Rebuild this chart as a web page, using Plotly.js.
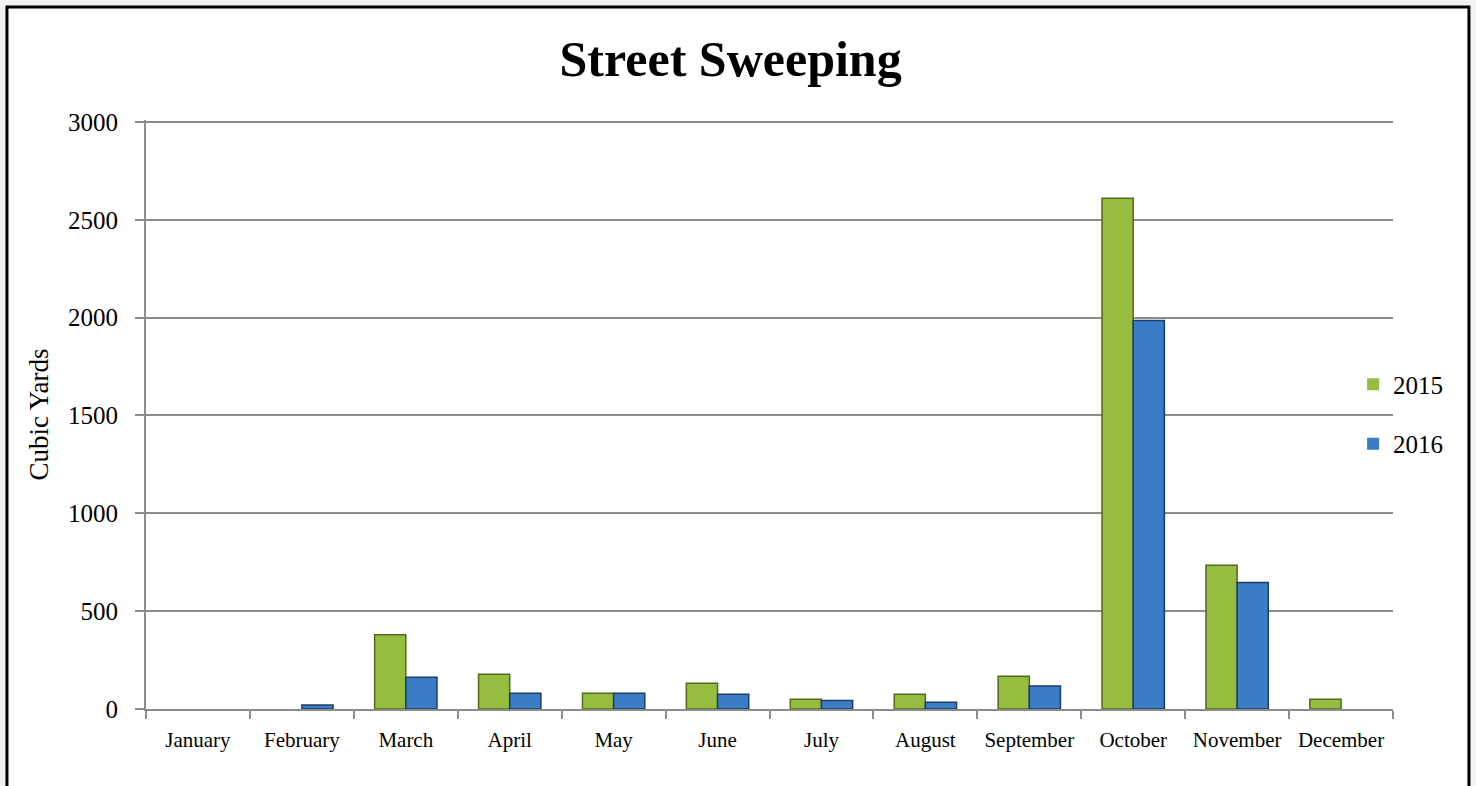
<!DOCTYPE html>
<html>
<head>
<meta charset="utf-8">
<script src="https://cdn.plot.ly/plotly-3.0.1.min.js"></script>
<style>
  html, body { margin: 0; padding: 0; background: #f2f2f2; }
  #chart { width: 1476px; height: 786px; }
</style>
</head>
<body>
<div id="chart"></div>
<script>
const months = ["January","February","March","April","May","June","July","August","September","October","November","December"];
const y2015 = [0, 0, 380, 178, 80, 131, 50, 75, 167, 2610, 734, 50];
const y2016 = [0, 20, 162, 80, 80, 75, 44, 34, 117, 1985, 647, 0];
const yTicks = [0, 500, 1000, 1500, 2000, 2500, 3000];

const serif = "Liberation Serif, Times New Roman, serif";

function barTrace(name, values, fill, edge, group) {
  return {
    type: "bar", name: name, x: months, y: values, legendgroup: group,
    marker: {
      color: fill,
      line: { color: edge, width: values.map(v => v === 0 ? 0 : 1.5) }
    },
    hoverinfo: "x+y+name"
  };
}

const traces = [
  barTrace("2015", y2015, "#96bc40", "#55691c", "a"),
  barTrace("2016", y2016, "#3b7cc6", "#1d3c66", "b")
];

const layout = {
  width: 1476, height: 786,
  paper_bgcolor: "#f2f2f2",
  plot_bgcolor: "rgba(0,0,0,0)",
  margin: { l: 146, r: 83, t: 120, b: 77, pad: 0 },
  barmode: "group",
  bargap: 0.4,
  bargroupgap: 0,
  title: {
    text: "<b>Street Sweeping</b>",
    font: { family: serif, size: 50, color: "#000" },
    x: 0.495, xref: "container", xanchor: "center",
    y: 0.925, yref: "container", yanchor: "middle"
  },
  font: { family: serif, color: "#000" },
  xaxis: {
    type: "category",
    tickson: "boundaries",
    tickangle: 0,
    ticks: "outside", ticklen: 8, tickwidth: 2, tickcolor: "#8c8c8c",
    showline: true, linecolor: "#8c8c8c", linewidth: 2,
    showgrid: false, zeroline: false,
    tickfont: { family: serif, size: 21, color: "#000" },
    ticklabelstandoff: 11,
    fixedrange: true
  },
  yaxis: {
    range: [0, 3010],
    tickvals: yTicks,
    ticktext: yTicks.map(String),
    ticks: "outside", ticklen: 9, tickwidth: 2, tickcolor: "#8c8c8c",
    showline: true, linecolor: "#8c8c8c", linewidth: 2,
    showgrid: true, gridcolor: "#8c8c8c", gridwidth: 2,
    zeroline: false,
    tickfont: { family: serif, size: 25, color: "#000" },
    ticklabelstandoff: 12,
    title: { text: "Cubic Yards", font: { family: serif, size: 27, color: "#000" }, standoff: 12 },
    fixedrange: true
  },
  showlegend: true,
  legend: {
    x: 0.968, xanchor: "left",
    y: 0.59, yanchor: "top",
    bgcolor: "rgba(0,0,0,0)",
    font: { family: serif, size: 25, color: "#000" },
    traceorder: "grouped",
    tracegroupgap: 24,
    itemwidth: 30
  },
  shapes: [
    {
      type: "rect", xref: "paper", yref: "paper", layer: "below",
      x0: -0.1115, x1: 1.0609, y0: -0.3, y1: 1.1917,
      fillcolor: "#ffffff",
      line: { color: "#000000", width: 3 }
    }
  ]
};

Plotly.newPlot("chart", traces, layout, { displayModeBar: false, staticPlot: true });
</script>
</body>
</html>
